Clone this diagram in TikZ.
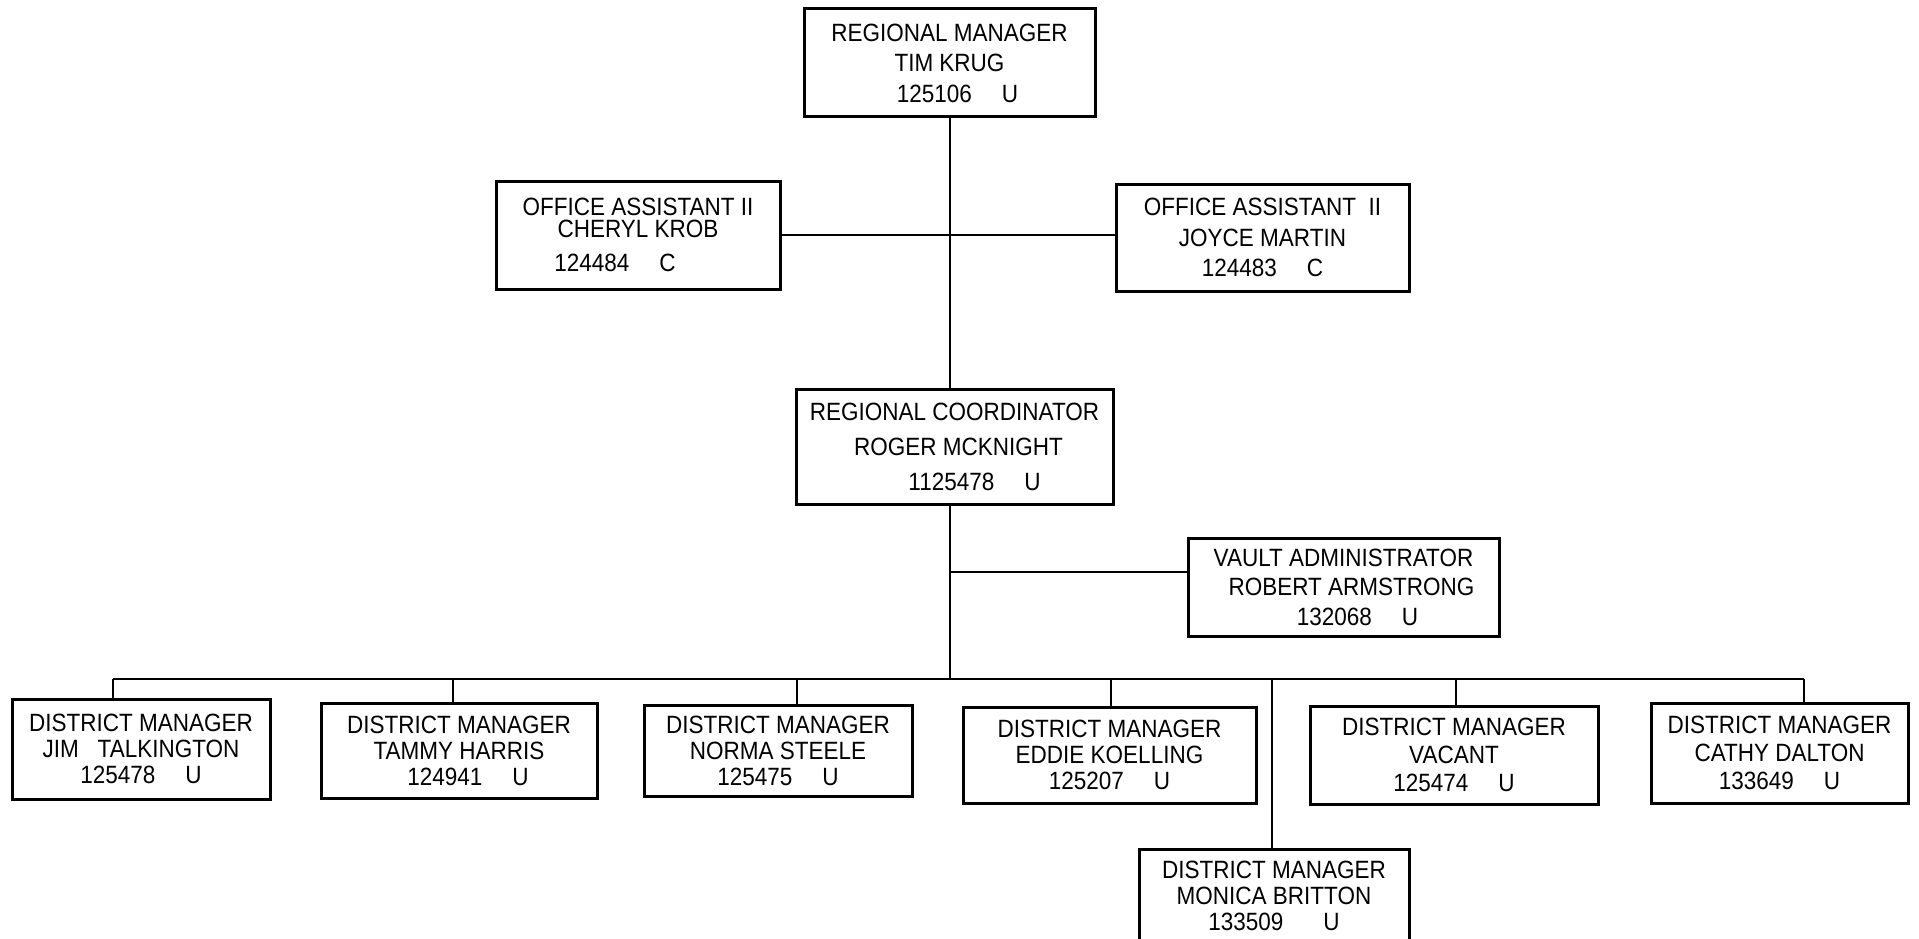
\documentclass[tikz,border=0pt]{standalone}
\usepackage{fontspec}
\setmainfont[FakeStretch=0.9]{Liberation Sans}
\newcommand\numgap{\hspace{30pt}}
\begin{document}
\begin{tikzpicture}[x=1pt,y=-1pt,
  orgbox/.style={draw, line width=3pt, inner sep=0pt, align=center,
    font=\fontsize{25}{27}\selectfont},
  conn/.style={line width=2.6pt}]
\useasboundingbox (0,0) rectangle (1919,939);
\clip (0,0) rectangle (1919,939);
\fill[white] (0,0) rectangle (1919,939);

% top level
\node[orgbox, minimum width=291pt, minimum height=108pt, font=\fontsize{25}{30.5}\selectfont]
  (rm) at (949.5,63) {REGIONAL MANAGER\\TIM KRUG\\\hspace*{16pt}125106\numgap U};

\node[orgbox, minimum width=284pt, minimum height=108pt, font=\fontsize{25}{22}\selectfont]
  (oa1) at (638,235) {OFFICE ASSISTANT II\\CHERYL KROB\hspace*{40pt}\\[12pt]124484\numgap C\hspace*{46pt}};

\node[orgbox, minimum width=293pt, minimum height=107pt, font=\fontsize{25}{30.5}\selectfont]
  (oa2) at (1262.5,237.5) {OFFICE ASSISTANT\ \ II\\JOYCE MARTIN\\124483\numgap C};

\node[orgbox, minimum width=317pt, minimum height=115pt, font=\fontsize{25}{35}\selectfont]
  (rc) at (954.5,446.5) {REGIONAL COORDINATOR\\\hspace*{8pt}ROGER MCKNIGHT\\\hspace*{40pt}1125478\numgap U};

\node[orgbox, minimum width=311pt, minimum height=98pt, font=\fontsize{25}{29.5}\selectfont]
  (va) at (1343.5,587) {VAULT ADMINISTRATOR\\\hspace*{16pt}ROBERT ARMSTRONG\\\hspace*{28pt}132068\numgap U};

% district managers
\node[orgbox, minimum width=258pt, minimum height=100pt, font=\fontsize{25}{26}\selectfont]
  (d1) at (141,749) {DISTRICT MANAGER\\JIM\ \ \ TALKINGTON\\125478\numgap U};
\node[orgbox, minimum width=276pt, minimum height=95pt, font=\fontsize{25}{26}\selectfont]
  (d2) at (459,750.5) {DISTRICT MANAGER\\TAMMY HARRIS\hspace*{12pt}\\\hspace*{18pt}124941\numgap U};
\node[orgbox, minimum width=268pt, minimum height=91pt, font=\fontsize{25}{26}\selectfont]
  (d3) at (778,750.5) {DISTRICT MANAGER\\NORMA STEELE\\125475\numgap U};
\node[orgbox, minimum width=293pt, minimum height=96pt, font=\fontsize{25}{26}\selectfont]
  (d4) at (1109.5,755) {DISTRICT MANAGER\\EDDIE KOELLING\\125207\numgap U};
\node[orgbox, minimum width=288pt, minimum height=98pt, font=\fontsize{25}{28}\selectfont]
  (d5) at (1454,755) {DISTRICT MANAGER\\VACANT\\125474\numgap U};
\node[orgbox, minimum width=257pt, minimum height=100pt, font=\fontsize{25}{28}\selectfont]
  (d6) at (1779.5,753) {DISTRICT MANAGER\\CATHY DALTON\\133649\numgap U};
\node[orgbox, minimum width=270pt, minimum height=92pt, anchor=north, font=\fontsize{25}{26}\selectfont]
  (d7) at (1274,848) {DISTRICT MANAGER\\MONICA BRITTON\\133509\hspace{40pt}U};

% bus coordinates
\coordinate (hub) at (950,679);
\coordinate (vaj) at (950,572);
\coordinate (b1) at (113,679);
\coordinate (b2) at (453,679);
\coordinate (b3) at (797,679);
\coordinate (b4) at (1111,679);
\coordinate (b5) at (1456,679);
\coordinate (b6) at (1804,679);
\coordinate (b7) at (1272,679);

% connectors
\draw[conn] (rm.south -| hub) -- (rc.north -| hub);
\draw[conn] (oa1.east) -- (oa1.east -| oa2.west);
\draw[conn] (rc.south -| hub) -- (hub);
\draw[conn] (vaj) -- (vaj -| va.west);
\draw[conn] (b1) -- (b6);
\draw[conn] (b1) -- (b1 |- d1.north);
\draw[conn] (b2) -- (b2 |- d2.north);
\draw[conn] (b3) -- (b3 |- d3.north);
\draw[conn] (b4) -- (b4 |- d4.north);
\draw[conn] (b5) -- (b5 |- d5.north);
\draw[conn] (b6) -- (b6 |- d6.north);
\draw[conn] (b7) -- (b7 |- d7.north);
\end{tikzpicture}
\end{document}
